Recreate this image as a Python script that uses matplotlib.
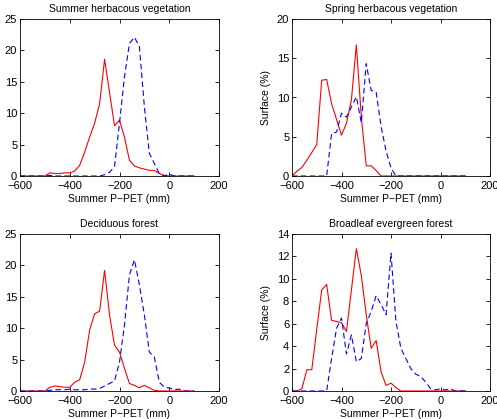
import numpy as np
import matplotlib
matplotlib.use("Agg")
import matplotlib.pyplot as plt

plt.rcParams["font.family"] = ["Liberation Sans", "DejaVu Sans"]
plt.rcParams["axes.unicode_minus"] = True

# P-PET bins (mm)
ppet = np.arange(-600, 101, 20)

# Summer herbacous vegetation
summer_red = [0, 0, 0, 0, 0, 0, 0.5, 0.4, 0.4, 0.5, 0.5, 0.8, 1.7, 3.8, 6.2, 8.4,
              11.5, 18.6, 13.3, 8.0, 8.9, 6.2, 2.5, 1.6, 1.3, 1.1, 0.9, 0.9, 0.4, 0.1,
              0, 0, 0, 0, 0, 0]
summer_blue = [0, 0, 0, 0, 0, 0, 0.1, 0, 0, 0, 0, 0, 0, 0, 0, 0,
               0, 0.2, 0.6, 1.5, 8.4, 15.8, 21.1, 22.1, 20.6, 11.0, 3.6, 2.0, 0.4, 0,
               0.3, 0, 0, 0, 0, 0]

# Spring herbacous vegetation
spring_red = [0, 0.6, 1.1, 2.0, 3.0, 4.0, 12.2, 12.3, 9.2, 7.2, 5.2, 6.7, 9.7, 16.7, 7.5, 1.3,
              1.3, 0.7, 0, 0, 0, 0, 0, 0, 0, 0, 0, 0, 0, 0,
              0, 0, 0, 0, 0, 0]
spring_blue = [0, 0, 0, 0, 0, 0, 0, 0, 5.4, 5.6, 8.0, 7.5, 8.8, 10.1, 6.8, 14.3,
               10.9, 10.7, 6.3, 3.2, 1.0, 0, 0, 0, 0, 0, 0, 0, 0, 0,
               0, 0, 0, 0, 0, 0]

# Deciduous forest
decid_red = [0, 0, 0, 0, 0, 0, 0.6, 0.8, 0.7, 0.6, 0.6, 1.4, 1.8, 4.6, 9.7, 12.3,
             12.7, 19.2, 12.1, 7.3, 6.2, 3.6, 1.2, 0.9, 0.5, 0.9, 0.5, 0.1, 0, 0,
             0, 0, 0, 0, 0, 0]
decid_blue = [0, 0, 0, 0, 0, 0, 0.1, 0.2, 0.2, 0.2, 0.3, 0.2, 0.2, 0.2, 0.3, 0.3,
              0.4, 0.8, 1.2, 1.6, 4.6, 10.5, 18.5, 20.9, 16.9, 12.1, 6.2, 5.4, 1.4, 0.6,
              0.5, 0.2, 0.3, 0, 0, 0]

# Broadleaf evergreen forest
broad_red = [0, 0, 0.2, 1.9, 1.9, 5.5, 9.0, 9.5, 6.3, 6.2, 6.1, 5.3, 9.0, 12.7, 10.3, 6.8,
             3.8, 4.5, 1.7, 0.5, 0.7, 0.3, 0, 0, 0, 0, 0, 0, 0, 0,
             0, 0, 0, 0, 0, 0]
broad_blue = [0, 0, 0, 0, 0, 0, 0, 0, 2.9, 5.6, 6.5, 3.3, 5.0, 2.6, 2.9, 6.0,
              7.1, 8.5, 7.7, 6.8, 12.3, 6.2, 3.8, 2.9, 2.0, 1.5, 1.3, 0.8, 0.2, 0.1,
              0.2, 0.1, 0.2, 0, 0, 0]

titles = ["Summer herbacous vegetation", "Spring herbacous vegetation",
          "Deciduous forest", "Broadleaf evergreen forest"]
reds = [summer_red, spring_red, decid_red, broad_red]
blues = [summer_blue, spring_blue, decid_blue, broad_blue]
ymaxes = [25, 20, 25, 14]
ysteps = [5, 5, 5, 2]

W, H = 497, 419
fig = plt.figure(figsize=(W / 100, H / 100), dpi=100)
# axes boxes in pixels: (left, top, right, bottom)
boxes = [(20, 19, 219, 176), (292, 19, 490, 176),
         (20, 234, 219, 391), (292, 234, 490, 391)]

for box, title, r, b, ymax, ystep in zip(boxes, titles, reds, blues, ymaxes, ysteps):
    l, t, rr, bb = box
    ax = fig.add_axes([l / W, 1 - bb / H, (rr - l) / W, (bb - t) / H])
    ax.plot(ppet, r, color="#ff0000", lw=0.8)
    ax.plot(ppet, b, color="#0000ff", lw=0.8, dashes=(5, 3))
    ax.set_xlim(-600, 200)
    ax.set_ylim(0, ymax)
    ax.set_xticks([-600, -400, -200, 0, 200])
    ax.set_yticks(np.arange(0, ymax + 0.1, ystep))
    ax.tick_params(direction="in", top=True, right=True, length=3, width=0.6,
                   labelsize=8)
    ax.tick_params(axis="x", pad=3.5)
    ax.tick_params(axis="y", pad=2)
    for s in ax.spines.values():
        s.set_linewidth(0.6)
    ax.set_title(title, fontsize=7.5, pad=5)
    ax.set_xlabel("Summer P\u2212PET (mm)", fontsize=7.5, labelpad=2)
    ax.set_ylabel("Surface (%)", fontsize=7.5, labelpad=4)

fig.savefig("out.png", dpi=100)
